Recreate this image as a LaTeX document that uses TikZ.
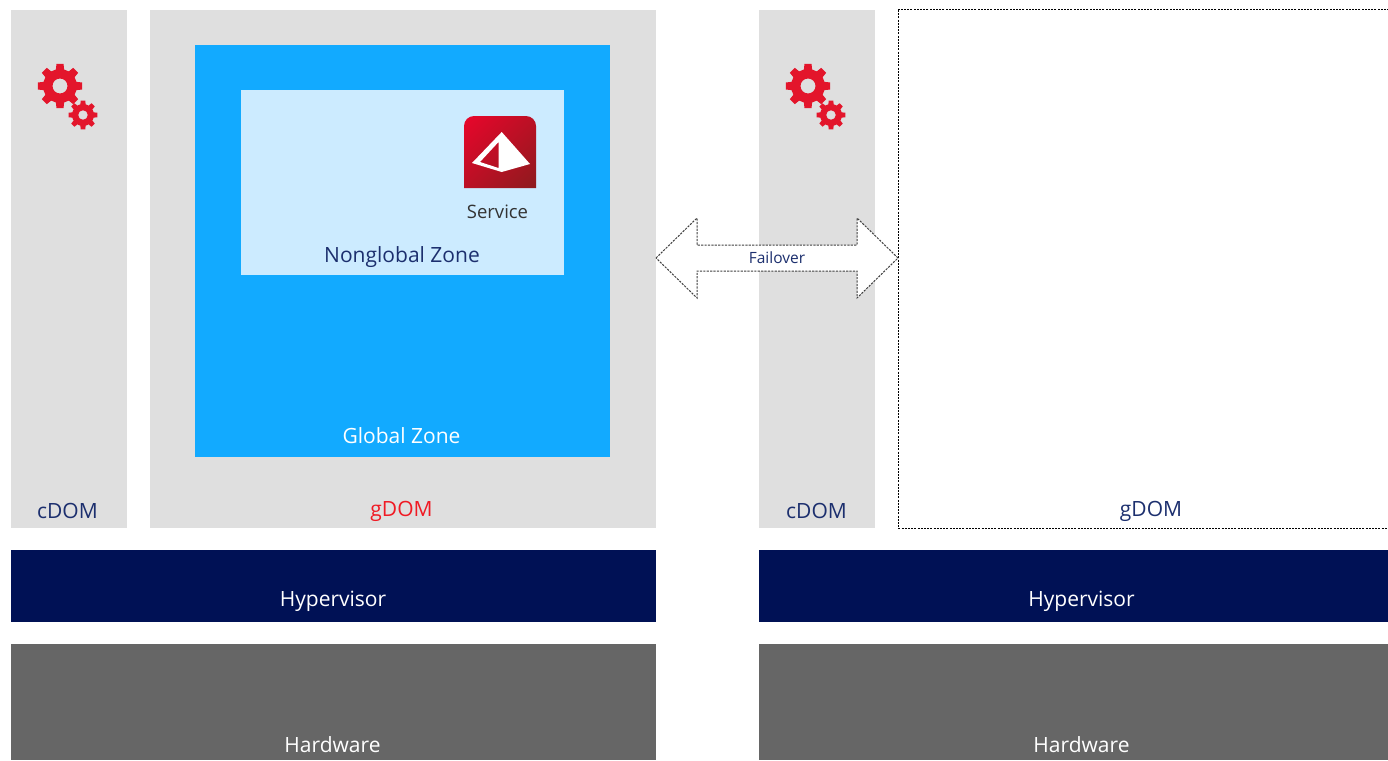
\documentclass[tikz,border=0pt]{standalone}
\usepackage{fontspec}
\setmainfont{Open Sans}
\definecolor{panel}{HTML}{DFDFDF}
\definecolor{zoneblue}{HTML}{12AAFF}
\definecolor{zonelight}{HTML}{CCEBFF}
\definecolor{navy}{HTML}{001155}
\definecolor{hw}{HTML}{666666}
\definecolor{labelnavy}{HTML}{1C2F6E}
\definecolor{gearred}{HTML}{E3152B}
\definecolor{icondark}{HTML}{8E1A1E}
\definecolor{iconred}{HTML}{E8062B}
\definecolor{gdomred}{HTML}{F01A24}
\usetikzlibrary{calc}
\newcommand{\gearpath}[5]{% cx cy outer inner hole
  \fill[gearred,even odd rule]
  ($(#1,#2)+({-14}:#4)$)
  \foreach \k in {0,...,7}{
    -- ($(#1,#2)+({\k*45-14}:#4)$) -- ($(#1,#2)+({\k*45-9}:#3)$) -- ($(#1,#2)+({\k*45+9}:#3)$) -- ($(#1,#2)+({\k*45+14}:#4)$)
  } -- cycle (#1,#2) circle[radius=#5];
}
\newcommand{\gearpair}[1]{%
  \gearpath{60+#1}{86}{22.5}{17}{7.5}
  \gearpath{83+#1}{115}{14.5}{11}{4.8}
}
\newcommand{\iconoutline}{(464,188) [rounded corners=10pt] -- (464,116) -- (536,116) [sharp corners] -- (536,188) -- cycle}
\tikzset{
  x=1pt,y=-1pt,
  lab/.style={inner sep=0,outer sep=0,anchor=center,font=\fontsize{21}{24}\selectfont},
  dot/.style={draw=black,line width=1pt,dash pattern=on 2pt off 1.2pt},
  dotgrey/.style={draw=black!75,line width=1pt,dash pattern=on 2.2pt off 1.2pt,fill=white}
}
\begin{document}
\begin{tikzpicture}
\useasboundingbox (0,0) rectangle (1388,760);
\clip (0,0) rectangle (1388,760);
% left host
\fill[panel] (11,10) rectangle (127,528);
\fill[panel] (150,10) rectangle (656,528);
\fill[zoneblue] (195,45) rectangle (610,457);
\fill[zonelight] (241,90) rectangle (564,275);
\fill[navy] (11,550) rectangle (656,622);
\fill[hw] (11,644) rectangle (656,760);
% right host
\fill[panel] (759,10) rectangle (875,528);
\draw[dot,fill=white] (898,10) rectangle (1392,528);
\fill[navy] (759,550) rectangle (1392,622);
\fill[hw] (759,644) rectangle (1392,760);
% gears
\gearpair{0}
\gearpair{748}
% service icon
\begin{scope}
\clip \iconoutline;
\shade[left color=iconred,right color=icondark,shading angle=45] (450,102) rectangle (550,202);
\end{scope}
\fill[white,even odd rule] (501.7,132) -- (530,164) -- (501.7,172) -- (472,163) -- cycle
  (498.5,142) -- (480,162) -- (498.5,168) -- cycle;
% failover arrow
\draw[dotgrey] (656,258) -- (697,218) -- (697,245) -- (857,245) -- (857,218) -- (898,258) -- (857,298) -- (857,271) -- (697,271) -- (697,298) -- cycle;
% labels
\node[lab,text=white] (gz) at (401.5,436) {Global Zone};
\node[lab,text=labelnavy] (ngz) at (402,257) {Nonglobal Zone};
\node[lab,text=black!80,font=\fontsize{18.5}{22}\selectfont] (svc) at (497.5,212) {Service};
\node[lab,text=labelnavy] (c1) at (67.5,511) {cDOM};
\node[lab,text=gdomred] (g1) at (401.5,511) {gDOM};
\node[lab,text=labelnavy] (c2) at (816.5,511) {cDOM};
\node[lab,text=labelnavy] (g2) at (1151,511) {gDOM};
\node[lab,text=white] (h1) at (333,601) {Hypervisor};
\node[lab,text=white] (h2) at (1081.5,601) {Hypervisor};
\node[lab,text=white] (w1) at (332.5,745) {Hardware};
\node[lab,text=white] (w2) at (1081.5,745) {Hardware};
\node[lab,text=labelnavy,font=\fontsize{15.5}{18}\selectfont] (fo) at (777,257.5) {Failover};
\end{tikzpicture}
\end{document}
